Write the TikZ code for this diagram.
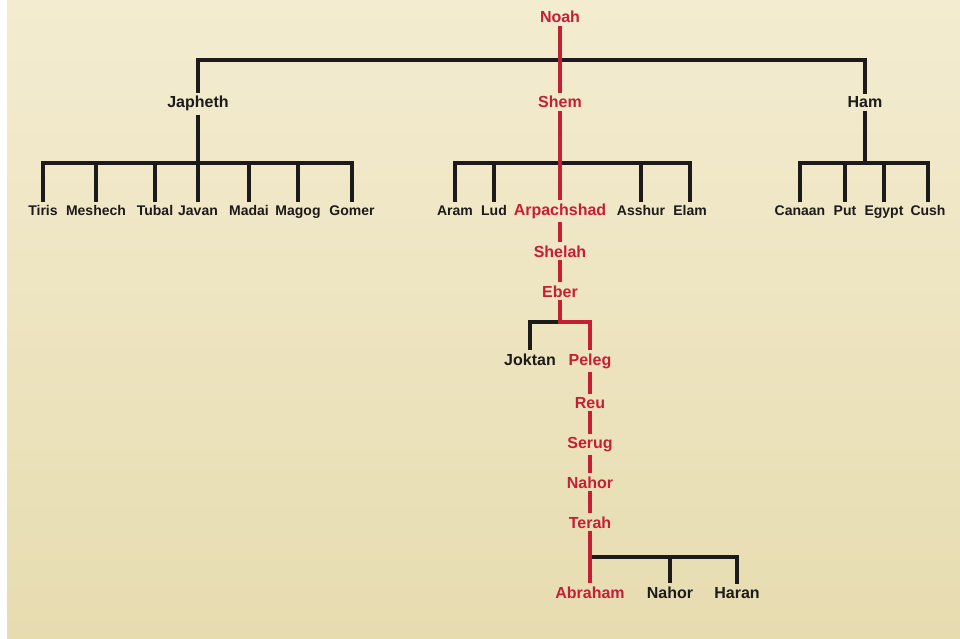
\documentclass[tikz,border=0pt]{standalone}
\usepackage{fontspec}
\setmainfont{Liberation Sans}
\usetikzlibrary{positioning}
\definecolor{ink}{RGB}{28,26,27}
\definecolor{blood}{RGB}{198,31,52}
\definecolor{parchtop}{RGB}{243,236,208}
\definecolor{parchmid}{RGB}{239,231,198}
\definecolor{parchbot}{RGB}{231,220,176}

\begin{document}
\begin{tikzpicture}[x=1pt, y=-1pt,
    person/.style={font=\fontsize{16}{18}\selectfont\bfseries, text=#1,
                   inner sep=3pt, anchor=base},
    person/.default=ink,
    kid/.style={font=\fontsize{14}{16}\selectfont\bfseries, text=ink,
                inner sep=3pt, anchor=base},
    blk/.style={draw=ink, line width=3.4pt},
    lineage/.style={draw=blood, line width=3.2pt}]

    % parchment
    \useasboundingbox (0,0) rectangle (960,639);
    \fill[white] (0,0) rectangle (960,639);
    \shade[top color=parchtop, middle color=parchmid, bottom color=parchbot]
      (7,0) rectangle (960,639);

    % Noah and sons
    \node[person=blood] (noah)    at (560,23)  {Noah};
    \node[person]       (japheth) at (198,108) {Japheth};
    \node[person=blood] (shem)    at (560,108) {Shem};
    \node[person]       (ham)     at (865,108) {Ham};
    \coordinate (split) at (560,60);

    % Japheth's sons
    \node[kid] (tiris)   at (43,215)  {Tiris};
    \node[kid] (meshech) at (96,215)  {Meshech};
    \node[kid] (tubal)   at (155,215) {Tubal};
    \node[kid] (javan)   at (198,215) {Javan};
    \node[kid] (madai)   at (249,215) {Madai};
    \node[kid] (magog)   at (298,215) {Magog};
    \node[kid] (gomer)   at (352,215) {Gomer};
    \coordinate (jbar) at (198,163);

    % Shem's sons
    \node[kid]          (aram)   at (455,215) {Aram};
    \node[kid]          (lud)    at (494,215) {Lud};
    \node[person=blood] (arpach) at (560,215) {Arpachshad};
    \node[kid]          (asshur) at (641,215) {Asshur};
    \node[kid]          (elam)   at (690,215) {Elam};
    \coordinate (sbar) at (560,163);

    % Ham's sons
    \node[kid] (canaan) at (800,215) {Canaan};
    \node[kid] (put)    at (845,215) {Put};
    \node[kid] (egypt)  at (884,215) {Egypt};
    \node[kid] (cush)   at (928,215) {Cush};
    \coordinate (hbar) at (865,163);

    % line to Abraham
    \node[person=blood] (shelah)  at (560,257) {Shelah};
    \node[person=blood] (eber)    at (560,297) {Eber};
    \node[person]       (joktan)  at (530,365) {Joktan};
    \node[person=blood] (peleg)   at (590,365) {Peleg};
    \node[person=blood] (reu)     at (590,408) {Reu};
    \node[person=blood] (serug)   at (590,448) {Serug};
    \node[person=blood] (nahor)   at (590,488) {Nahor};
    \node[person=blood] (terah)   at (590,528) {Terah};
    \node[person=blood] (abraham) at (590,598) {Abraham};
    \node[person]       (nahorb)  at (670,598) {Nahor};
    \node[person]       (haran)   at (737,598) {Haran};
    \coordinate (ebar) at (560,322);
    \coordinate (tbar) at (590,557);

    % black branches
    \draw[blk] (japheth) |- (split) -| (ham);
    \draw[blk] (japheth) -- (jbar);
    \draw[blk] (tiris) |- (jbar) -| (gomer);
    \foreach \k in {meshech,tubal,javan,madai,magog}
      \draw[blk] (\k) -- (\k |- jbar);
    \draw[blk] (aram) |- (sbar) -| (elam);
    \foreach \k in {lud,asshur}
      \draw[blk] (\k) -- (\k |- sbar);
    \draw[blk] (ham) -- (hbar);
    \draw[blk] (canaan) |- (hbar) -| (cush);
    \foreach \k in {put,egypt}
      \draw[blk] (\k) -- (\k |- hbar);
    \draw[blk] (joktan) |- (ebar);
    \draw[blk] (tbar) -| (haran);
    \draw[blk] (nahorb) -- (nahorb |- tbar);

    % red line of descent
    \draw[lineage] (noah) -- (shem);
    \draw[lineage] (shem) -- (arpach);
    \draw[lineage] (arpach) -- (shelah);
    \draw[lineage] (shelah) -- (eber);
    \draw[lineage] (eber) -- (ebar) -| (peleg);
    \draw[lineage] (peleg) -- (reu);
    \draw[lineage] (reu) -- (serug);
    \draw[lineage] (serug) -- (nahor);
    \draw[lineage] (nahor) -- (terah);
    \draw[lineage] (terah) -- (abraham);
  \end{tikzpicture}
\end{document}
